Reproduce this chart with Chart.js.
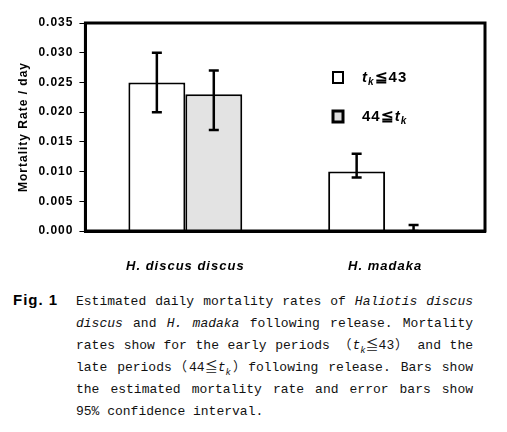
<!DOCTYPE html>
<html>
<head>
<meta charset="utf-8">
<script src="https://cdn.jsdelivr.net/npm/chart.js@4"></script>
<style>
  body { margin: 0; background: #fff; width: 507px; height: 432px; position: relative; overflow: hidden; }
  #chart-wrap { position: absolute; left: 0; top: 0; width: 507px; height: 290px; }
  .fig-label {
    position: absolute; left: 13px; top: 291px; line-height: 22px;
    font: bold 15px "Liberation Sans", Arial, sans-serif; letter-spacing: 1px; color: #000;
  }
  .caption {
    position: absolute; left: 76px; top: 291px; width: 397px;
    font-family: "Liberation Mono", "Noto Sans CJK JP", monospace; font-size: 13px; color: #111;
  }
  .caption div { height: 22px; line-height: 22px; white-space: nowrap; text-align: justify; text-align-last: justify; }
  .caption div.last { text-align-last: left; }
  .caption sub { font-size: 9px; line-height: 0; }
</style>
</head>
<body>
<div id="chart-wrap"><canvas id="chart" width="507" height="290"></canvas></div>

<div class="fig-label">Fig. 1</div>
<div class="caption">
  <div>Estimated daily mortality rates of <i>Haliotis discus</i></div>
  <div><i>discus</i> and <i>H. madaka</i> following release. Mortality</div>
  <div>rates show for the early periods （<i>t<sub>k</sub></i>≦43）  and the</div>
  <div>late periods（44≦<i>t<sub>k</sub></i>）following release. Bars show</div>
  <div>the estimated mortality rate and error bars show</div>
  <div class="last">95% confidence interval.</div>
</div>

<script>
// values
const categories = ["H. discus discus", "H. madaka"];
const earlyRates = [0.025, 0.010];
const lateRates = [0.023, 0.0];
const earlyLower = [0.020, 0.009];
const earlyUpper = [0.030, 0.013];
const lateLower = [0.017, 0.0];
const lateUpper = [0.027, 0.001];
const yTicks = [0, 0.005, 0.01, 0.015, 0.02, 0.025, 0.03, 0.035];

const BOLD_FONT = '"Liberation Sans", Arial, sans-serif';

// the original looks slightly stretched, so every canvas text gets a bit of spacing
const spacingPlugin = {
  id: "spacing",
  beforeUpdate(chart) { chart.ctx.letterSpacing = "1px"; },
  beforeDraw(chart) { chart.ctx.letterSpacing = "1px"; }
};

const errorBarPlugin = {
  id: "errorBars",
  afterDatasetsDraw(chart) {
    const ctx = chart.ctx;
    const y = chart.scales.y;
    const bounds = [[earlyLower, earlyUpper], [lateLower, lateUpper]];
    ctx.save();
    ctx.strokeStyle = "#000";
    ctx.lineWidth = 2.5;
    bounds.forEach(([lo, hi], i) => {
      const meta = chart.getDatasetMeta(i);
      meta.data.forEach((bar, j) => {
        const yLo = y.getPixelForValue(lo[j]);
        const yHi = y.getPixelForValue(hi[j]);
        ctx.beginPath();
        ctx.moveTo(bar.x, yLo);
        ctx.lineTo(bar.x, yHi);
        ctx.moveTo(bar.x - 5, yLo);
        ctx.lineTo(bar.x + 5, yLo);
        ctx.moveTo(bar.x - 5, yHi);
        ctx.lineTo(bar.x + 5, yHi);
        ctx.stroke();
      });
    });
    ctx.restore();
  }
};

const framePlugin = {
  id: "frame",
  afterDraw(chart) {
    const { left, top, right, bottom } = chart.chartArea;
    const ctx = chart.ctx;
    ctx.save();
    ctx.strokeStyle = "#000";
    ctx.lineWidth = 3;
    ctx.strokeRect(left, top, right - left, bottom - top);
    ctx.restore();
  }
};

// legend with italic subscripted t_k, drawn inside the plot area
const legendRows = [
  { fill: "#ffffff", border: 2, parts: [["t", "italic"], ["k", "sub"], ["≦43", ""]] },
  { fill: "#dcdcdc", border: 3, parts: [["44≦", ""], ["t", "italic"], ["k", "sub"]] }
];

const legendPlugin = {
  id: "customLegend",
  afterDraw(chart) {
    const ctx = chart.ctx;
    ctx.save();
    ctx.letterSpacing = "1px";
    legendRows.forEach((row, i) => {
      const bx = 333, by = 72 + i * 39;
      ctx.fillStyle = row.fill;
      ctx.fillRect(bx, by, 10, 11);
      ctx.strokeStyle = "#000";
      ctx.lineWidth = row.border;
      ctx.strokeRect(bx, by, 10, 11);
      let x = 362;
      const base = by + 10;
      ctx.fillStyle = "#000";
      ctx.textBaseline = "alphabetic";
      row.parts.forEach(([txt, style]) => {
        if (style === "sub") {
          ctx.font = "italic bold 10px " + BOLD_FONT;
          ctx.fillText(txt, x, base + 3);
        } else {
          ctx.font = (style === "italic" ? "italic " : "") + "bold 15px " + BOLD_FONT;
          ctx.fillText(txt, x, base);
        }
        x += ctx.measureText(txt).width;
      });
    });
    ctx.restore();
  }
};

new Chart(document.getElementById("chart"), {
  type: "bar",
  data: {
    labels: categories,
    datasets: [
      {
        label: "tk≦43",
        data: earlyRates,
        backgroundColor: "#ffffff",
        borderColor: "#000",
        borderWidth: 2,
        borderSkipped: "bottom"
      },
      {
        label: "44≦tk",
        data: lateRates,
        backgroundColor: "#e3e3e3",
        borderColor: "#000",
        borderWidth: 2,
        borderSkipped: "bottom"
      }
    ]
  },
  options: {
    responsive: false,
    devicePixelRatio: 1,
    animation: false,
    layout: { padding: { left: 12, top: 23, right: 22, bottom: 14 } },
    datasets: { bar: { categoryPercentage: 0.57, barPercentage: 1 } },
    plugins: {
      legend: { display: false },
      tooltip: { enabled: false }
    },
    scales: {
      x: {
        grid: { display: false },
        border: { display: true, color: "#000", width: 3 },
        afterFit(scale) { scale.height = 45; },
        ticks: {
          color: "#000",
          padding: 20,
          maxRotation: 0,
          font: { family: BOLD_FONT, size: 13, weight: "bold", style: "italic" }
        }
      },
      y: {
        min: 0,
        max: 0.035,
        afterBuildTicks(scale) { scale.ticks = yTicks.map((v) => ({ value: v })); },
        grid: { drawOnChartArea: false, drawTicks: true, tickLength: 6, color: "#000", lineWidth: 1 },
        border: { display: true, color: "#000", width: 3 },
        ticks: {
          color: "#000",
          padding: 6,
          font: { family: BOLD_FONT, size: 12, weight: "bold" },
          callback: (v) => Number(v).toFixed(3)
        },
        title: {
          display: true,
          text: "Mortality Rate / day",
          color: "#000",
          padding: { top: 4, bottom: 2 },
          font: { family: BOLD_FONT, size: 12, weight: "bold" }
        }
      }
    }
  },
  plugins: [spacingPlugin, errorBarPlugin, framePlugin, legendPlugin]
});
</script>
</body>
</html>
